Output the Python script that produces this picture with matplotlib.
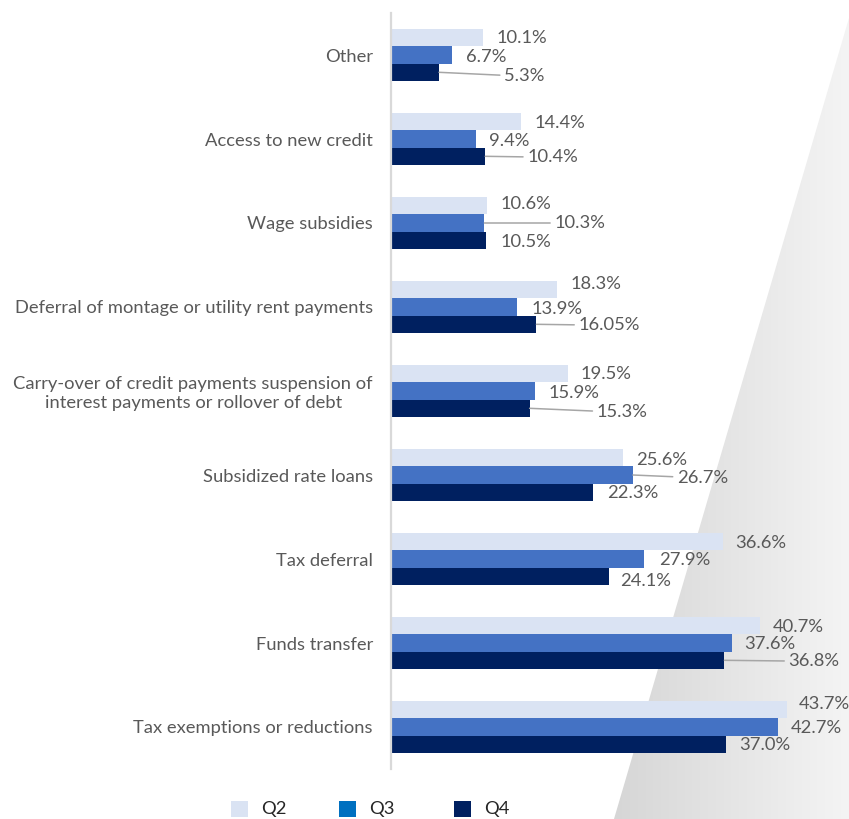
import numpy as np
import matplotlib
matplotlib.use("Agg")
import matplotlib.pyplot as plt
from matplotlib.patches import Polygon, Rectangle
from matplotlib.colors import LinearSegmentedColormap

plt.rcParams["font.family"] = ["Lato", "DejaVu Sans"]

# ---- data -----------------------------------------------------------------
categories = [
    "Other",
    "Access to new credit",
    "Wage subsidies",
    "Deferral of montage or utility rent payments",
    "Carry-over of credit payments suspension of\ninterest payments or rollover of debt",
    "Subsidized rate loans",
    "Tax deferral",
    "Funds transfer",
    "Tax exemptions or reductions",
]
series_names = ["Q2", "Q3", "Q4"]
q2 = [10.1, 14.4, 10.6, 18.3, 19.5, 25.6, 36.6, 40.7, 43.7]
q3 = [6.7, 9.4, 10.3, 13.9, 15.9, 26.7, 27.9, 37.6, 42.7]
q4 = [5.3, 10.4, 10.5, 16.05, 15.3, 22.3, 24.1, 36.8, 37.0]

# ---- styling --------------------------------------------------------------
bar_colors = ["#DAE3F3", "#4472C4", "#002060"]
legend_colors = ["#DAE3F3", "#0070C0", "#002060"]
text_color = "#595959"
leader_color = "#A6A6A6"
fs = 13.2

# label placement (pixels right of bar end, pixels below bar centre, leader?)
label_offsets = [
    [(14, 0, 0), (13, 1, 0), (14, -2, 0), (14, -6, 0), (13, 0, 0),
     (13, 2, 0), (13, 1, 0), (13, 1, 0), (12, -6, 0)],
    [(14, 2, 0), (13, 2, 0), (70, 0, 1), (15, 2, 0), (13, 2, 0),
     (44, 3, 1), (15, 1, 0), (13, 1, 0), (13, 1, 0)],
    [(65, 4, 1), (42, 1, 1), (14, 2, 0), (42, 1, 1), (67, 4, 1),
     (14, 1, 0), (11, 5, 0), (64, 1, 1), (13, 1, 0)],
]

W, H = 849, 819
fig = plt.figure(figsize=(W / 100, H / 100), dpi=100)

# background layer in pixel coordinates
bg = fig.add_axes([0, 0, 1, 1], zorder=0)
bg.set_xlim(0, W)
bg.set_ylim(H, 0)
bg.axis("off")
tri = Polygon([(W, 18), (W, H), (614, H)], closed=True, facecolor="none",
              edgecolor="none")
bg.add_patch(tri)
grad = np.linspace(0, 1, 256)[None, :]
gcmap = LinearSegmentedColormap.from_list("g", ["#D6D6D6", "#F4F4F4"])
im = bg.imshow(grad, cmap=gcmap, extent=(614, W, H, 18), aspect="auto",
               interpolation="bilinear")
im.set_clip_path(tri)

# legend along the bottom edge
leg_x = [231, 339, 454]
for name, col, lx in zip(series_names, legend_colors, leg_x):
    bg.add_patch(Rectangle((lx, 801), 17, 16, facecolor=col, edgecolor="none"))
    bg.text(lx + 30, 809, name, fontsize=fs, color="#262626",
            ha="left", va="center")

# main chart
left_px, right_px, top_px, bottom_px = 391, 844, 13, 769
ax = fig.add_axes([left_px / W, 1 - bottom_px / H,
                   (right_px - left_px) / W, (bottom_px - top_px) / H],
                  zorder=1)
ax.patch.set_alpha(0)

y = np.arange(len(categories))
h = 0.206
all_series = [q2, q3, q4]
for k, (vals, col) in enumerate(zip(all_series, bar_colors)):
    ax.barh(y + (k - 1) * h, vals, height=h, color=col, edgecolor="none",
            zorder=2)

ax.set_xlim(0, (right_px - left_px) / 9.06)
ax.set_ylim(len(categories) - 0.5, -0.5)

for k, vals in enumerate(all_series):
    for i, v in enumerate(vals):
        dx, dy, leader = label_offsets[k][i]
        yc = y[i] + (k - 1) * h
        kw = {}
        if leader:
            kw["arrowprops"] = dict(arrowstyle="-", color=leader_color, lw=1.1,
                                    shrinkA=1, shrinkB=0)
        ax.annotate(f"{v}%", xy=(v, yc), xytext=(dx, -dy),
                    textcoords="offset pixels", ha="left", va="center",
                    fontsize=fs, color=text_color, zorder=3, **kw)

ax.set_yticks(y)
ax.set_yticklabels(categories, fontsize=fs, color=text_color,
                   multialignment="center")
ax.tick_params(axis="y", length=0, pad=13)
ax.set_xticks([])
for s in ["top", "right", "bottom"]:
    ax.spines[s].set_visible(False)
ax.spines["left"].set_color("#D9D9D9")
ax.spines["left"].set_linewidth(1.6)

fig.savefig("out.png", dpi=100)
